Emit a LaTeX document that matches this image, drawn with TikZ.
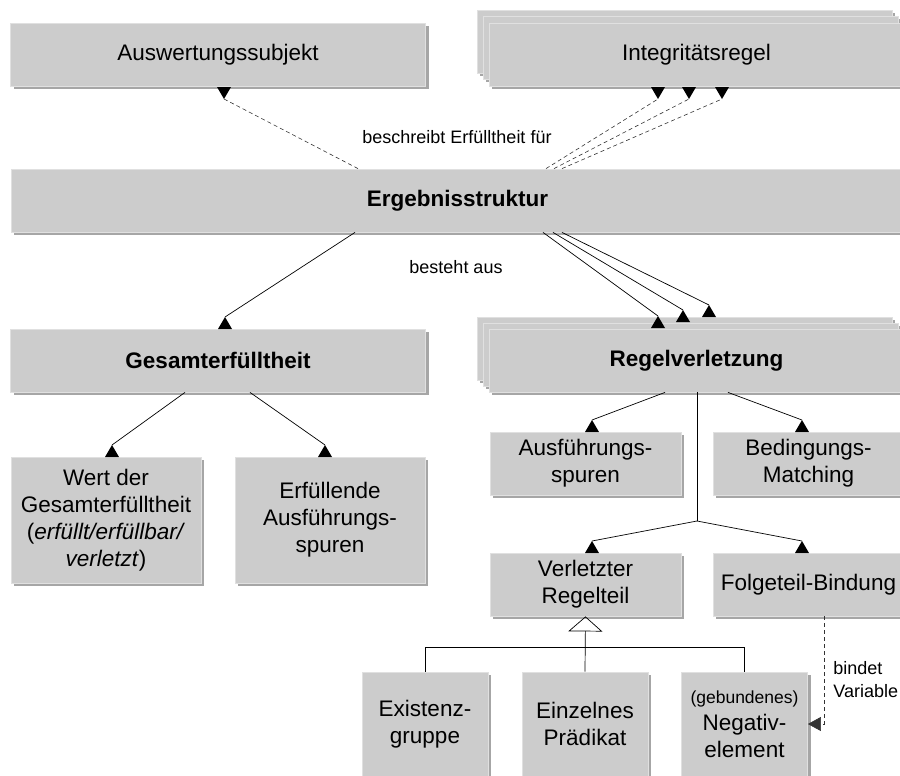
\documentclass[tikz,border=0pt]{standalone}
\usepackage{fontspec}
\setmainfont{Liberation Sans}
\usetikzlibrary{arrows.meta, shadows}

\definecolor{boxgray}{RGB}{204,204,204}
\definecolor{shadegray}{RGB}{166,166,166}
\newcommand{\boxfont}{\fontsize{11.25}{13.5}\selectfont}
\newcommand{\lblfont}{\fontsize{9}{11.5}\selectfont}

\tikzset{
  box/.style = {rectangle, fill = boxgray, draw = white!88!black, line width = .4pt,
    inner sep = 0pt, align = center, font = \boxfont,
    drop shadow = {shadow xshift = 1.5pt, shadow yshift = -1.5pt, fill = shadegray, opacity = 1}},
  wide/.style = {box, minimum width = 207.5pt, minimum height = 31.5pt},
  mid/.style = {box, minimum width = 95.5pt, minimum height = #1},
  small/.style = {box, minimum width = 63pt, minimum height = 52pt},
  lbl/.style = {font = \lblfont, inner sep = 1pt},
  dep/.style = {dashed, dash pattern = on 2pt off 1.5pt, line width = .3pt, black!80},
  con/.style = {line width = .35pt},
  headup/.style = {insert path = {-- ++(-7,12) -- ++(14,0) -- cycle}},
  headdown/.style = {insert path = {-- ++(-7,-12) -- ++(14,0) -- cycle}}
}

\begin{document}
\begin{tikzpicture}[x = .5pt, y = -.5pt]
\useasboundingbox (0,0) rectangle (900,776);
\clip (0,0) rectangle (900,776);

\node[wide] (aus) at (218,54.5) {Auswertungssubjekt};
\node[wide] (intb) at (684.5,41.5) {};
\node[wide] (intm) at (690.5,47.5) {};
\node[wide] (int) at (696.5,54.5) {Integritätsregel};

\node[box, minimum width = 446.5pt, minimum height = 31.5pt] (erg) at (457.5,200.5) {\textbf{Ergebnisstruktur}};

\node[wide] (ges) at (218,360.5) {\textbf{Gesamterfülltheit}};
\node[wide] (regb) at (684.5,348.5) {};
\node[wide] (regm) at (690.5,354.5) {};
\node[wide] (reg) at (696.5,360.5) {\textbf{Regelverletzung}};

\node[mid = 63pt, minimum width = 95pt] (wert) at (106,520) {Wert der\\Gesamterfülltheit\\(\textit{erfüllt/erfüllbar/}\\\textit{verletzt})};
\node[mid = 63pt, minimum width = 95pt] (erf) at (330,520) {Erfüllende\\Ausführungs-\\spuren};

\node[mid = 31.5pt] (ausf) at (585.5,463.5) {Ausführungs-\\spuren};
\node[mid = 31.5pt] (bed) at (808.5,463.5) {Bedingungs-\\Matching};
\node[mid = 31.5pt] (verl) at (585.5,584.5) {Verletzter\\Regelteil};
\node[mid = 31.5pt] (folg) at (808.5,584.5) {Folgeteil-Bindung};

\node[small] (exi) at (425,724) {Existenz-\\gruppe};
\node[small] (einz) at (585,724) {Einzelnes\\Prädikat};
\node[small] (neg) at (744.5,724) {{\fontsize{8.75}{10}\selectfont(gebundenes)}\\Negativ-\\element};

\node[lbl] (l-beschr) at (457,137) {beschreibt Erfülltheit für};
\node[lbl] (l-best) at (456,267) {besteht aus};
\node[lbl, anchor = west, align = left] (l-bind) at (831,680) {bindet\\Variable};

\coordinate (h-aus) at (224,99);
\coordinate (h-int1) at (658,99);
\coordinate (h-int2) at (689,99);
\coordinate (h-int3) at (722,99);
\coordinate (h-ges) at (225,317);
\coordinate (h-reg1) at (658,316);
\coordinate (h-reg2) at (683,310);
\coordinate (h-reg3) at (709,305);
\coordinate (h-wert) at (112,445);
\coordinate (h-erf) at (325,445);
\coordinate (h-ausf) at (592,420);
\coordinate (h-bed) at (802,420);
\coordinate (h-verl) at (592,541);
\coordinate (h-folg) at (802,541);
\coordinate (j) at (697,521);

\draw[dep] (erg.north -| 358,0) -- (h-aus);
\draw[dep] (erg.north -| 546,0) -- (h-int1);
\draw[dep] (erg.north -| 554,0) -- (h-int2);
\draw[dep] (erg.north -| 562,0) -- (h-int3);
\fill (h-aus) [headdown];
\fill (h-int1) [headdown];
\fill (h-int2) [headdown];
\fill (h-int3) [headdown];

\draw[con] (erg.south -| 355,0) -- (h-ges);
\draw[con] (erg.south -| 543,0) -- (h-reg1);
\draw[con] (erg.south -| 553,0) -- (h-reg2);
\draw[con] (erg.south -| 562,0) -- (h-reg3);
\draw[con] (ges.south -| 185,0) -- (h-wert);
\draw[con] (ges.south -| 250,0) -- (h-erf);
\draw[con] (reg.south -| 665,0) -- (h-ausf);
\draw[con] (reg.south -| 728,0) -- (h-bed);
\draw[con] (reg.south -| 697,0) -- (j);
\draw[con] (j) -- (h-verl);
\draw[con] (j) -- (h-folg);
\foreach \h in {h-ges, h-reg1, h-reg2, h-reg3, h-wert, h-erf, h-ausf, h-bed, h-verl, h-folg}
  \fill (\h) [headup];

\draw[con, -{Triangle[open, width = 17pt, length = 7.5pt]}] (einz.north) -- (verl.south);
\draw[con] (exi.north) -- ++(0,-24) -| (neg.north);

\draw[dep, -{Triangle[width = 7pt, length = 6.5pt]}] (folg.south -| 824,0) |- (neg.east);
\end{tikzpicture}
\end{document}
